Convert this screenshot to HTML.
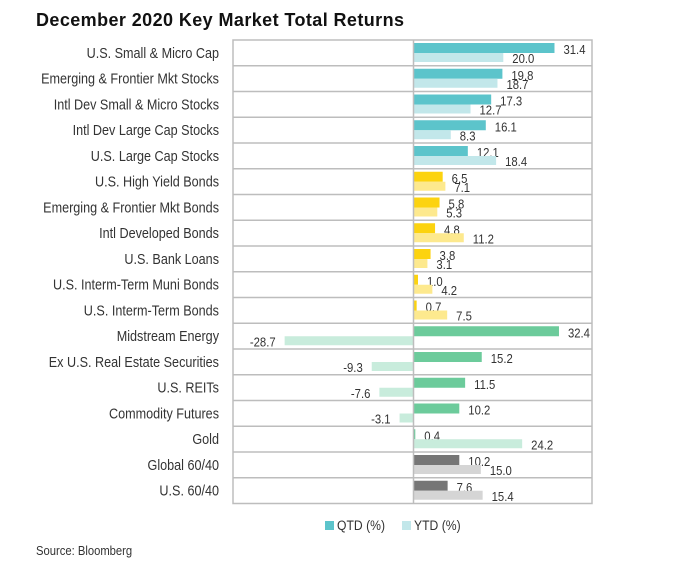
<!DOCTYPE html>
<html><head><meta charset="utf-8"><style>body{margin:0;background:#fff}svg{display:block}</style></head>
<body>
<svg id="svg" width="690" height="570" xmlns="http://www.w3.org/2000/svg" font-family="Liberation Sans, sans-serif">
<text x="36" y="26" font-size="18" font-weight="bold" fill="#111" textLength="368">December 2020 Key Market Total Returns</text>
<g id="chart"></g>
<g transform="translate(36,555) scale(0.9,1)"><text font-size="12.5" fill="#333">Source: Bloomberg</text></g>
</svg>
<script>
(function(){
var rows=[
["U.S. Small & Micro Cap",31.4,20.0,"t"],
["Emerging & Frontier Mkt Stocks",19.8,18.7,"t"],
["Intl Dev Small & Micro Stocks",17.3,12.7,"t"],
["Intl Dev Large Cap Stocks",16.1,8.3,"t"],
["U.S. Large Cap Stocks",12.1,18.4,"t"],
["U.S. High Yield Bonds",6.5,7.1,"y"],
["Emerging & Frontier Mkt Bonds",5.8,5.3,"y"],
["Intl Developed Bonds",4.8,11.2,"y"],
["U.S. Bank Loans",3.8,3.1,"y"],
["U.S. Interm-Term Muni Bonds",1.0,4.2,"y"],
["U.S. Interm-Term Bonds",0.7,7.5,"y"],
["Midstream Energy",32.4,-28.7,"g"],
["Ex U.S. Real Estate Securities",15.2,-9.3,"g"],
["U.S. REITs",11.5,-7.6,"g"],
["Commodity Futures",10.2,-3.1,"g"],
["Gold",0.4,24.2,"g"],
["Global 60/40",10.2,15.0,"k"],
["U.S. 60/40",7.6,15.4,"k"]];
var col={t:["#5cc4cb","#c2e7ea"],y:["#fcd30f","#fde98e"],g:["#6ccb9b","#c8ecdc"],k:["#767676","#d5d5d5"]};
var T0=40,rh=25.75,z=413.5,s=4.49,L=233,R=592;
var h='';
h+='<rect x="'+L+'" y="'+T0+'" width="'+(R-L)+'" height="'+(rh*18)+'" fill="none" stroke="#bdbdbd" stroke-width="1.5"/>';
for(var i=1;i<18;i++)h+='<line x1="'+L+'" x2="'+R+'" y1="'+(T0+i*rh)+'" y2="'+(T0+i*rh)+'" stroke="#bdbdbd" stroke-width="1.5"/>';
rows.forEach(function(r,i){
 var y=T0+i*rh,c=col[r[3]];
 h+='<g transform="translate(219,'+(y+rh/2+5)+') scale(0.87,1)"><text x="0" y="0" text-anchor="end" font-size="14.5" fill="#333">'+r[0].replace(/&/g,'&amp;')+'</text></g>';
 [[r[1],3,10,c[0],9.5],[r[2],13,9,c[1],18.5]].forEach(function(a){
  var v=a[0],o=a[1],hh=a[2],cc=a[3],ly=a[4];
  var w=Math.max(Math.abs(v)*s,1.5);
  var x=v>=0?z:z-w;
  h+='<rect x="'+x+'" y="'+(y+o)+'" width="'+w+'" height="'+hh+'" fill="'+cc+'"/>';
  var lx=v>=0?z+w+9:z-w-9, an=v>=0?'start':'end';
  h+='<g transform="translate('+lx+','+(y+ly+4.5)+') scale(0.87,1)"><text x="0" y="0" text-anchor="'+an+'" font-size="13" fill="#333">'+v.toFixed(1)+'</text></g>';
 });
});
h+='<line x1="'+z+'" x2="'+z+'" y1="'+T0+'" y2="'+(T0+18*rh)+'" stroke="#bdbdbd" stroke-width="1.5"/>';
h+='<rect x="325" y="521" width="9" height="9" fill="#5cc4cb"/><g transform="translate(337,530) scale(0.87,1)"><text font-size="14" fill="#333">QTD (%)</text></g>';
h+='<rect x="402" y="521" width="9" height="9" fill="#c2e7ea"/><g transform="translate(414,530) scale(0.87,1)"><text font-size="14" fill="#333">YTD (%)</text></g>';
document.getElementById('chart').innerHTML=h;
})();
</script>
</body></html>
